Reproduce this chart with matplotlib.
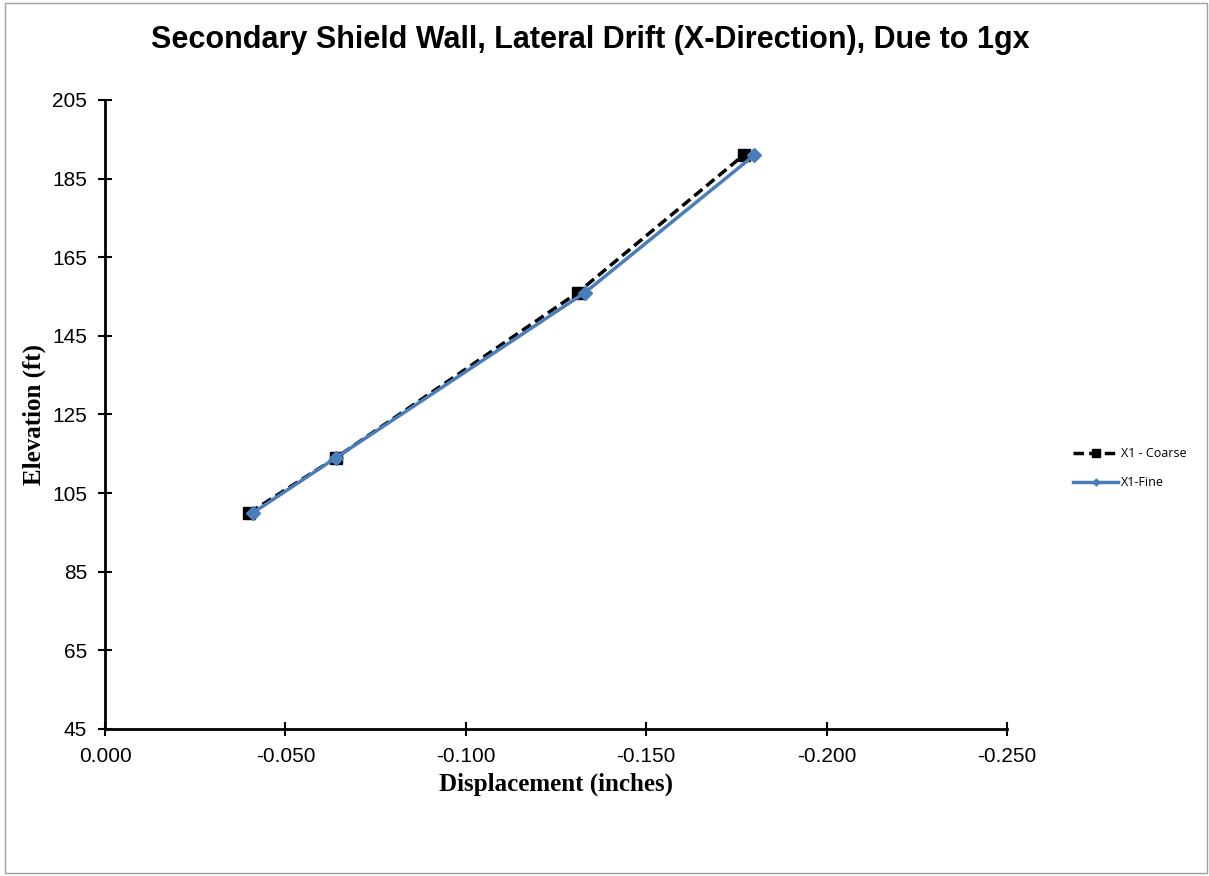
import matplotlib
matplotlib.use("Agg")
import matplotlib.pyplot as plt
from matplotlib.patches import Rectangle

# data
coarse_x = [-0.040, -0.064, -0.131, -0.177]
coarse_y = [100, 114, 156, 191]
fine_x = [-0.041, -0.064, -0.133, -0.180]
fine_y = [100, 114, 156, 191]

x_ticks = [0.0, -0.05, -0.10, -0.15, -0.20, -0.25]
y_ticks = [45, 65, 85, 105, 125, 145, 165, 185, 205]

fig = plt.figure(figsize=(12.09, 8.76), dpi=100)
ax = fig.add_axes([105 / 1209, 1 - 729 / 876, 902 / 1209, 629 / 876])

# chart border
fig.patches.append(Rectangle((5 / 1209, 3 / 876), 1202 / 1209, 870 / 876,
                             transform=fig.transFigure, fill=False,
                             edgecolor="#a0a0a0", linewidth=1))

ax.plot(coarse_x, coarse_y, color="black", linestyle=(0, (3, 1.5)), linewidth=2.5,
        marker="s", markersize=9, label="X1 - Coarse")
ax.plot(fine_x, fine_y, color="#4a7ebb", linewidth=2.5,
        marker="D", markersize=7, label="X1-Fine")

ax.set_xlim(0, -0.25)
ax.set_ylim(45, 205)
ax.set_xticks(x_ticks)
ax.set_xticklabels(["%.3f" % v for v in x_ticks], fontfamily="Liberation Sans", fontsize=15)
ax.set_yticks(y_ticks)
ax.set_yticklabels([str(v) for v in y_ticks], fontfamily="Liberation Sans", fontsize=15)
ax.tick_params(direction="inout", length=10, width=1.5, pad=8)

for s in ["top", "right"]:
    ax.spines[s].set_visible(False)
for s in ["left", "bottom"]:
    ax.spines[s].set_linewidth(2)

ax.set_xlabel("Displacement (inches)", fontfamily="Liberation Serif", fontweight="bold",
              fontsize=18, labelpad=5)
ax.set_ylabel("Elevation (ft)", fontfamily="Liberation Serif", fontweight="bold",
              fontsize=18, labelpad=4)

fig.text(590 / 1209, 1 - 40 / 876, "Secondary Shield Wall, Lateral Drift (X-Direction), Due to 1gx",
         ha="center", va="center", fontfamily="Liberation Sans", fontweight="bold", fontsize=22)

leg = ax.legend(loc="center left", bbox_to_anchor=(1062 / 1209, 1 - 468 / 876),
                bbox_transform=fig.transFigure, frameon=False, prop={"family": "Open Sans", "size": 9},
                handlelength=3.6, handletextpad=0.2, labelspacing=1.3)
leg.legend_handles[0].set_markersize(6)
leg.legend_handles[1].set_markersize(3.5)

fig.savefig("out.png", dpi=100)
